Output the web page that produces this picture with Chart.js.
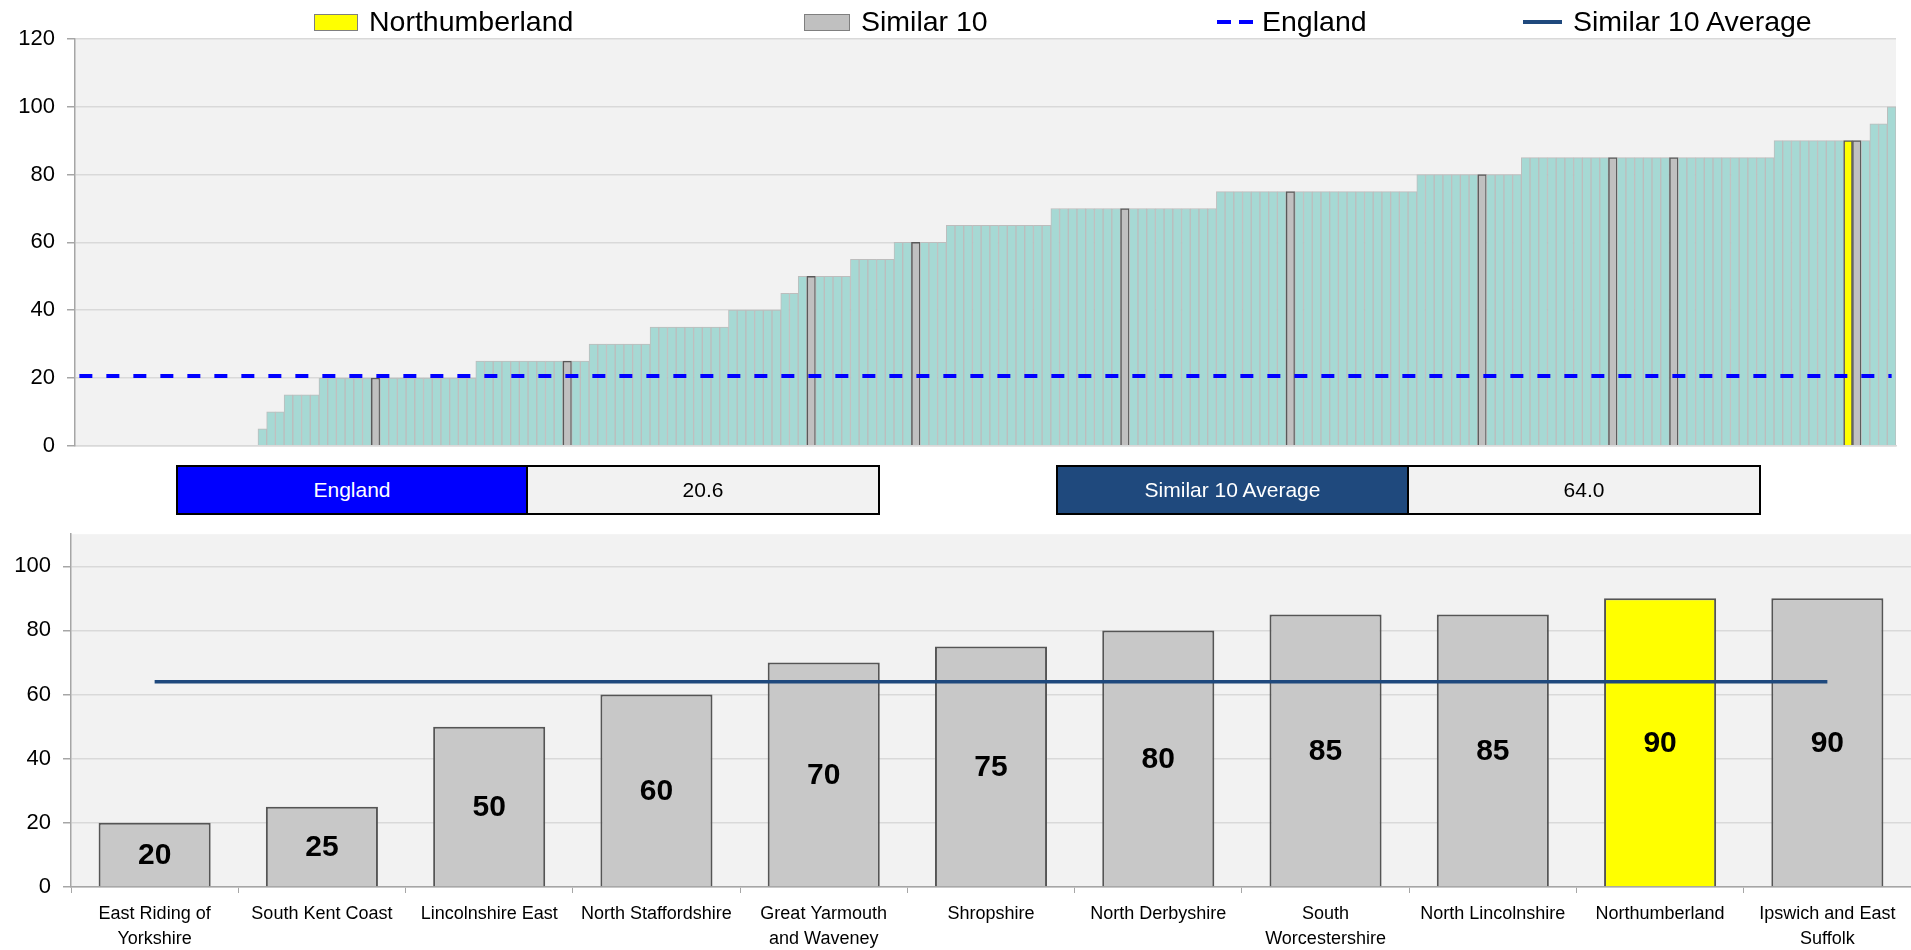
<!DOCTYPE html>
<html>
<head>
<meta charset="utf-8">
<script src="https://cdn.jsdelivr.net/npm/chart.js@4.4.1/dist/chart.umd.min.js"></script>
<style>
  html,body{margin:0;padding:0;background:#fff;}
  body{width:1911px;height:950px;position:relative;overflow:hidden;font-family:"Liberation Sans",Arial,sans-serif;color:#000;}
  #topWrap{position:absolute;left:0;top:0;width:1911px;height:471px;}
  #botWrap{position:absolute;left:0;top:509px;width:1911px;height:441px;}
  .legTxt{position:absolute;top:5px;height:32px;font-size:28.5px;line-height:32px;white-space:nowrap;}
  .sw{position:absolute;box-sizing:border-box;}
  .box{position:absolute;top:465px;height:50px;box-sizing:border-box;border:2px solid #000;font-size:21px;line-height:46px;text-align:center;}
</style>
</head>
<body>
<div id="topWrap"><canvas id="topChart" width="1911" height="471"></canvas></div>
<div id="botWrap"><canvas id="botChart" width="1911" height="441"></canvas></div>

<!-- legend -->
<div class="sw" style="left:314px;top:14px;width:44px;height:17px;background:#FFFF00;border:1.5px solid #7F7F7F;"></div>
<div class="legTxt" style="left:369px;">Northumberland</div>
<div class="sw" style="left:804px;top:14px;width:46px;height:17px;background:#C0C0C0;border:1.5px solid #7F7F7F;"></div>
<div class="legTxt" style="left:861px;">Similar 10</div>
<div class="sw" style="left:1217px;top:20px;width:14px;height:4px;background:#0000FF;"></div>
<div class="sw" style="left:1239px;top:20px;width:14px;height:4px;background:#0000FF;"></div>
<div class="legTxt" style="left:1262px;">England</div>
<div class="sw" style="left:1523px;top:20px;width:39px;height:4px;background:#1F497D;"></div>
<div class="legTxt" style="left:1573px;">Similar 10 Average</div>

<!-- value boxes -->
<div class="box" style="left:176px;width:352px;background:#0000FF;color:#fff;">England</div>
<div class="box" id="engVal" style="left:526px;width:354px;background:#F2F2F2;"></div>
<div class="box" style="left:1056px;width:353px;background:#1F497D;color:#fff;">Similar 10 Average</div>
<div class="box" id="avgVal" style="left:1407px;width:354px;background:#F2F2F2;"></div>

<script>
/* ---------- data ---------- */
// all areas, sorted ascending (top chart)
const topValues = [
  0,0,0,0,0,0,0,0,0,0, 0,0,0,0,0,0,0,0,0,0, 0,
  5,
  10,10,
  15,15,15,15,
  20,20,20,20,20,20,20,20,20,20, 20,20,20,20,20,20,20,20,
  25,25,25,25,25,25,25,25,25,25, 25,25,25,
  30,30,30,30,30,30,30,
  35,35,35,35,35,35,35,35,35,
  40,40,40,40,40,40,
  45,45,
  50,50,50,50,50,50,
  55,55,55,55,55,
  60,60,60,60,60,60,
  65,65,65,65,65,65,65,65,65,65, 65,65,
  70,70,70,70,70,70,70,70,70,70, 70,70,70,70,70,70,70,70,70,
  75,75,75,75,75,75,75,75,75,75, 75,75,75,75,75,75,75,75,75,75, 75,75,75,
  80,80,80,80,80,80,80,80,80,80, 80,80,
  85,85,85,85,85,85,85,85,85,85, 85,85,85,85,85,85,85,85,85,85, 85,85,85,85,85,85,85,85,85,
  90,90,90,90,90,90,90,90,90,90, 90,
  95,95,
  100
];
const topLabels   = topValues.map((_, i) => i + 1);   // rank
const similarRank = [34, 56, 84, 96, 120, 139, 161, 176, 183, 204]; // positions of the similar 10
const homeRank    = 203;                                              // Northumberland

const englandValue = 20.6;
const similarAvg   = 64.0;

// similar 10 (bottom chart)
const bottomAreas = [
  ["East Riding of", "Yorkshire"],
  ["South Kent Coast"],
  ["Lincolnshire East"],
  ["North Staffordshire"],
  ["Great Yarmouth", "and Waveney"],
  ["Shropshire"],
  ["North Derbyshire"],
  ["South", "Worcestershire"],
  ["North Lincolnshire"],
  ["Northumberland"],
  ["Ipswich and East", "Suffolk"]
];
const bottomValues = [20, 25, 50, 60, 70, 75, 80, 85, 85, 90, 90];
const homeArea = "Northumberland";

/* ---------- setup ---------- */
Chart.defaults.font.family = "'Liberation Sans', Arial, sans-serif";
Chart.defaults.color = "#000";

document.getElementById("engVal").textContent = englandValue.toFixed(1);
document.getElementById("avgVal").textContent = similarAvg.toFixed(1);

// light grey plot area
const plotBg = {
  id: "plotBg",
  beforeDraw(chart) {
    const {ctx, chartArea: a} = chart;
    ctx.save();
    ctx.fillStyle = "#F2F2F2";
    ctx.fillRect(a.left, a.top, a.right - a.left, a.bottom - a.top);
    ctx.restore();
  }
};

// value labels in middle of bars
const barLabels = {
  id: "barLabels",
  afterDatasetsDraw(chart) {
    const ctx = chart.ctx;
    const meta = chart.getDatasetMeta(0);
    const vals = chart.data.datasets[0].data;
    ctx.save();
    ctx.font = "bold 30px 'Liberation Sans', Arial, sans-serif";
    ctx.fillStyle = "#000";
    ctx.textAlign = "center";
    ctx.textBaseline = "middle";
    meta.data.forEach((bar, i) => {
      ctx.fillText(vals[i], bar.x, (bar.y + bar.base) / 2 + 1);
    });
    ctx.restore();
  }
};

/* ---------- top chart ---------- */
new Chart(document.getElementById("topChart"), {
  data: {
    labels: topLabels,
    datasets: [
      {
        type: "bar",
        label: "Areas",
        data: topValues,
        backgroundColor: topValues.map((v, i) =>
          i === homeRank ? "#FFFF00" : similarRank.includes(i) ? "#C0C0C0" : "#A6D9D4"),
        borderColor: topValues.map((v, i) =>
          i === homeRank || similarRank.includes(i) ? "#595959" : "#BDBDBD"),
        borderWidth: topValues.map((v, i) =>
          i === homeRank || similarRank.includes(i) ? 1.5 : 1),
        barPercentage: 1,
        categoryPercentage: 1,
        order: 1
      },
      {
        type: "line",
        label: "England",
        parsing: false,
        data: [{x: 0, y: englandValue}, {x: topValues.length - 1, y: englandValue}],
        borderColor: "#0000FF",
        borderWidth: 4,
        borderDash: [13, 14],
        pointRadius: 0,
        order: 0
      }
    ]
  },
  options: {
    responsive: false,
    animation: false,
    layout: {padding: {top: 39, right: 15, left: 0, bottom: 0}},
    plugins: {legend: {display: false}, tooltip: {enabled: false}},
    scales: {
      x: {
        ticks: {display: false},
        grid: {display: false},
        border: {color: "#D9D9D9", width: 1.5},
        afterFit: s => { s.height = 16; }
      },
      y: {
        min: 0, max: 120,
        ticks: {stepSize: 20, font: {size: 22}, padding: 12},
        grid: {color: "#D9D9D9", lineWidth: 1.5, tickColor: "#A6A6A6", tickLength: 8},
        border: {color: "#A6A6A6", width: 1.5},
        afterFit: s => { s.width = 75; }
      }
    }
  },
  plugins: [plotBg]
});

/* ---------- bottom chart ---------- */
const hideTop = (c, col) => c.tick && c.tick.value > 100 ? "rgba(0,0,0,0)" : col;

new Chart(document.getElementById("botChart"), {
  data: {
    labels: bottomAreas,
    datasets: [
      {
        type: "bar",
        label: "Similar 10",
        data: bottomValues,
        backgroundColor: bottomAreas.map(a => a[0] === homeArea ? "#FFFF00" : "#C8C8C8"),
        borderColor: "#555555",
        borderWidth: 2,
        barPercentage: 0.67,
        categoryPercentage: 1,
        order: 1
      },
      {
        type: "line",
        label: "Similar 10 Average",
        parsing: false,
        data: [{x: 0, y: similarAvg}, {x: bottomValues.length - 1, y: similarAvg}],
        borderColor: "#1F497D",
        borderWidth: 3.5,
        pointRadius: 0,
        order: 0
      }
    ]
  },
  options: {
    responsive: false,
    animation: false,
    layout: {padding: {top: 14, right: 0, left: 0, bottom: 0}},
    plugins: {legend: {display: false}, tooltip: {enabled: false}},
    scales: {
      x: {
        ticks: {font: {size: 18, lineHeight: 1.4}, padding: 8, maxRotation: 0, autoSkip: false},
        grid: {offset: true, drawOnChartArea: false, tickLength: 6, tickColor: "#A6A6A6"},
        border: {color: "#A6A6A6", width: 1.5},
        afterFit: s => { s.height = 63; }
      },
      y: {
        min: 0, max: 110,
        ticks: {stepSize: 20, font: {size: 22}, padding: 12,
                callback: v => v > 100 ? "" : v},
        grid: {color: c => hideTop(c, "#D9D9D9"), lineWidth: 1.5,
               tickColor: c => hideTop(c, "#A6A6A6"), tickLength: 8},
        border: {color: "#A6A6A6", width: 1.5},
        afterFit: s => { s.width = 71; }
      }
    }
  },
  plugins: [plotBg, barLabels]
});
</script>
</body>
</html>
